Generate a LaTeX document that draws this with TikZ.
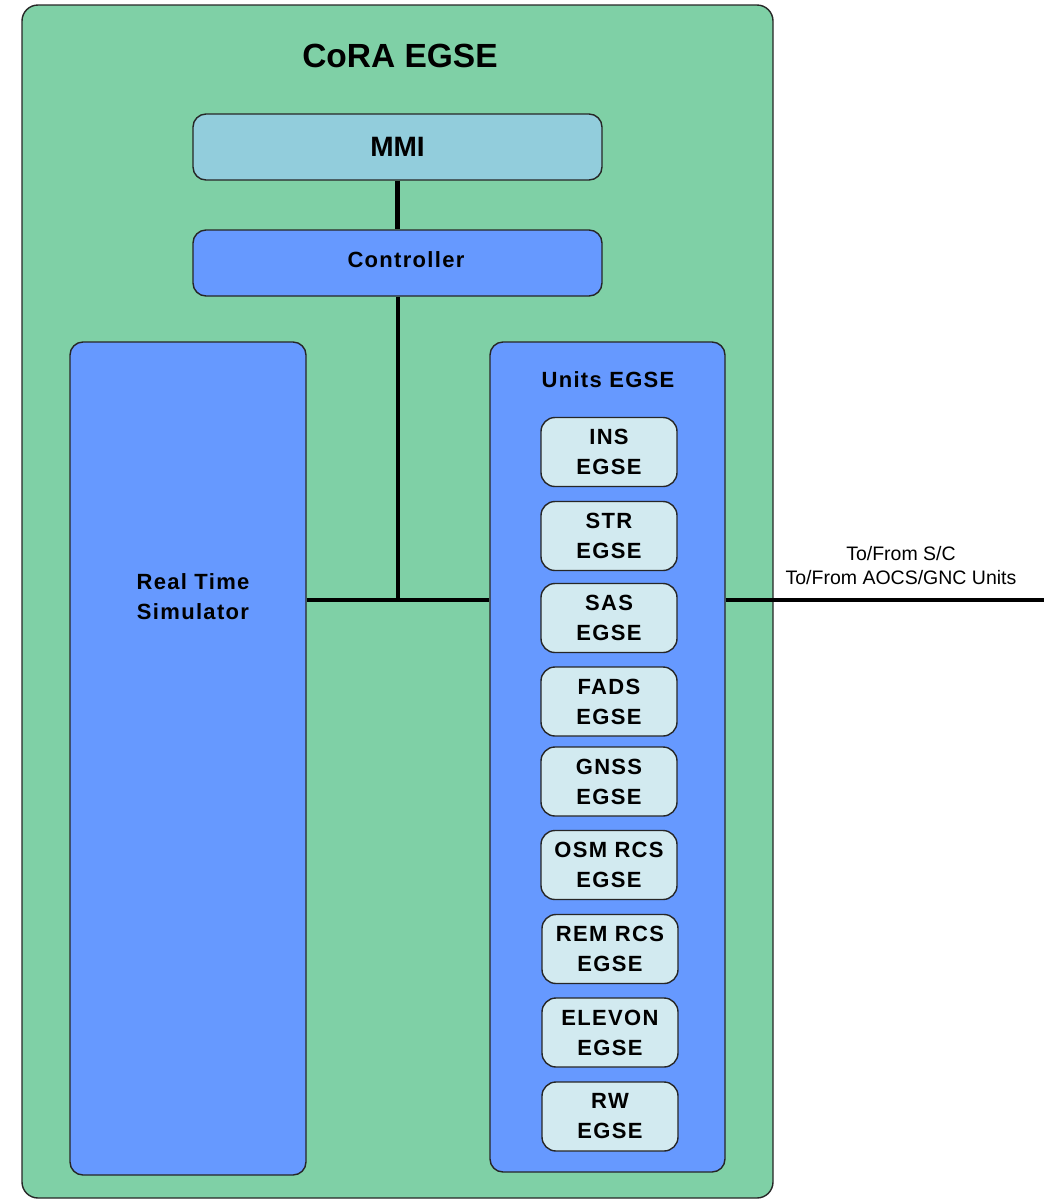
\documentclass[tikz,border=0pt]{standalone}
\usepackage{fontspec}
\setmainfont{Liberation Sans}
\newfontfamily\boxfont{Liberation Sans}[LetterSpace=6]
\begin{document}
\begin{tikzpicture}[x=1pt,y=-1pt,
  lbl/.style={font=\boxfont\bfseries\fontsize{22}{30}\selectfont, align=center},
  box/.style={draw=black!85, line width=1.4pt, rounded corners=13pt, inner sep=0pt, lbl},
  unitbox/.style={box, fill=unitfill, minimum width=136pt, minimum height=69pt, rounded corners=14pt},
  bus/.style={line width=4.2pt, black}
]
\definecolor{outerfill}{HTML}{7FD0A6}
\definecolor{mmifill}{HTML}{92CDDC}
\definecolor{bluefill}{HTML}{6699FF}
\definecolor{unitfill}{HTML}{D2EAF0}
\useasboundingbox (0,0) rectangle (1051,1203);

% enclosing frame
\node[box, fill=outerfill, minimum width=751pt, minimum height=1193pt, rounded corners=16pt] (cora) at (397.5,601.5) {};
\node[font=\bfseries\fontsize{33.5}{38}\selectfont] (title) at (400,56) {CoRA EGSE};

% upper chain
\node[box, fill=mmifill, minimum width=409pt, minimum height=66pt, font=\bfseries\fontsize{28}{30}\selectfont] (mmi) at (397.5,147) {MMI};
\node[box, fill=bluefill, minimum width=409pt, minimum height=66pt] (ctrl) at (397.5,263) {};
\node[lbl] (ctrllabel) at (406,260) {Controller};

% simulator and units container
\node[box, fill=bluefill, minimum width=236pt, minimum height=833pt] (rts) at (188,758.5) {};
\node[lbl] (rtslabel) at (193,597) {Real Time\\Simulator};

\node[box, fill=bluefill, minimum width=235pt, minimum height=830pt] (units) at (607.5,757) {};
\node[lbl] (unitslabel) at (608,380) {Units EGSE};

% unit EGSE boxes
\node[unitbox] (ins)    at (609,452)  {INS\\EGSE};
\node[unitbox] (str)    at (609,536)  {STR\\EGSE};
\node[unitbox] (sas)    at (609,618)  {SAS\\EGSE};
\node[unitbox] (fads)   at (609,701.5){FADS\\EGSE};
\node[unitbox] (gnss)   at (609,781.5){GNSS\\EGSE};
\node[unitbox] (osm)    at (609,865)  {OSM RCS\\EGSE};
\node[unitbox] (rem)    at (610,949)  {REM RCS\\EGSE};
\node[unitbox] (elevon) at (610,1032.5){ELEVON\\EGSE};
\node[unitbox] (rw)     at (610,1116.5){RW\\EGSE};

% connections
\coordinate (junction) at (398,600);
\coordinate (ext) at (1044,600);
\draw[bus] (mmi.south) -- (ctrl.north);
\draw[bus] (ctrl.south -| junction) -- (junction);
\draw[bus] (rts.east |- junction) -- (units.west |- junction);
\draw[bus] (units.east |- junction) -- (ext);

\node[font=\fontsize{19.5}{24}\selectfont, align=center] (extlabel) at (901,566) {To/From S/C\\To/From AOCS/GNC Units};
\end{tikzpicture}
\end{document}
